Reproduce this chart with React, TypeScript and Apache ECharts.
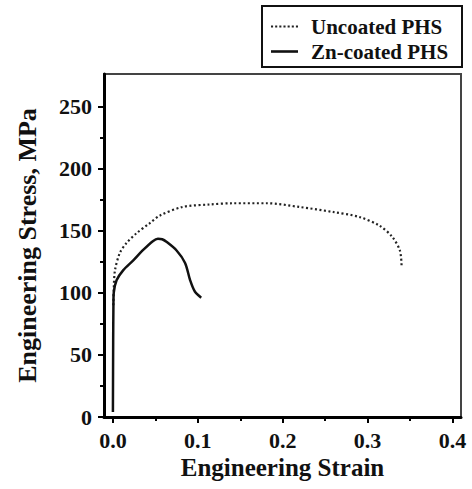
import React, { useEffect, useRef } from "react";
import * as echarts from "echarts";

const uncoatedStrain = [0.0005, 0.001, 0.0024, 0.0082, 0.016, 0.028, 0.0435, 0.055, 0.082, 0.114, 0.141, 0.181, 0.22, 0.259, 0.29, 0.314, 0.329, 0.338, 0.34];
const uncoatedStress = [90, 103, 118, 132, 140, 148, 156, 162, 169, 171, 172, 172, 169, 165, 161, 154, 145, 134, 122];

const znStrain = [0.0, 0.0003, 0.0006, 0.001, 0.0043, 0.012, 0.024, 0.035, 0.047, 0.053, 0.058, 0.063, 0.075, 0.085, 0.091, 0.0965, 0.104];
const znStress = [4, 60, 90, 100, 110, 118, 126, 134, 141.5, 143.5, 143, 141, 134, 124, 110, 101, 96];

const xTickMin = 0;
const xTickMax = 0.4;
const xTickStep = 0.1;
const yTickMin = 0;
const yTickMax = 250;
const yTickStep = 50;

const FONT = "'Liberation Serif', 'Times New Roman', serif";

const DOTS_ICON =
  "path://M0,0h2v2h-2z M4,0h2v2h-2z M8,0h2v2h-2z M12,0h2v2h-2z M16,0h2v2h-2z M20,0h2v2h-2z M24,0h2v2h-2z";
const SOLID_ICON = "path://M0,0h27v2.6h-27z";

export default function App() {
  const ref = useRef<HTMLDivElement>(null);
  useEffect(() => {
    if (!ref.current) return;
    const chart = echarts.init(ref.current, undefined, { renderer: "svg" });
    const W = 472;
    const H = 489;
    const left = 104;
    const right = 11;
    const top = 74;
    const bottom = 72;
    const xMin = -0.0105;
    const xMax = 0.41;
    const yMin = 0;
    const yMax = 276;
    const plotW = W - left - right;
    const plotH = H - top - bottom;
    // tick-grid edges derived from the data scale
    const xTickLeft = left + ((xTickMin - xMin) / (xMax - xMin)) * plotW;
    const xTickRight = W - (left + ((xTickMax - xMin) / (xMax - xMin)) * plotW);
    const yTickTop = top + ((yMax - yTickMax) / (yMax - yMin)) * plotH;

    const labelStyle = {
      fontFamily: FONT,
      fontWeight: "bold" as const,
      fontSize: 22,
      color: "#111",
      margin: 12,
    };
    const tickStyle = { color: "#000", width: 2 };

    chart.setOption({
      animation: false,
      backgroundColor: "#fff",
      textStyle: { fontFamily: FONT },
      grid: [
        {
          left,
          right,
          top,
          bottom,
          show: true,
          borderColor: "#444",
          borderWidth: 2,
          backgroundColor: "transparent",
        },
        { left: xTickLeft, right: xTickRight, top, bottom, show: false },
        { left, right, top: yTickTop, bottom, show: false },
      ],
      graphic: [
        {
          type: "rect",
          shape: { x: 262, y: 6, width: 200, height: 61 },
          style: { fill: "#fff", stroke: "#111", lineWidth: 2 },
          z: 1,
        },
      ],
      legend: {
        orient: "vertical",
        left: 271,
        top: 16,
        padding: 0,
        itemWidth: 27,
        itemHeight: 14,
        itemGap: 4,
        textStyle: {
          fontFamily: FONT,
          fontWeight: "bold",
          fontSize: 21,
          lineHeight: 21,
          color: "#111",
          padding: [0, 0, 0, 8],
        },
        data: [
          { name: "Uncoated PHS", icon: DOTS_ICON },
          { name: "Zn-coated PHS", icon: SOLID_ICON },
        ],
      },
      xAxis: [
        {
          gridIndex: 0,
          type: "value",
          min: xMin,
          max: xMax,
          name: "Engineering Strain",
          nameLocation: "middle",
          nameGap: 38,
          nameTextStyle: { fontFamily: FONT, fontWeight: "bold", fontSize: 25, color: "#111" },
          axisLine: { show: true, onZero: false, lineStyle: { color: "#000", width: 3 } },
          axisTick: { show: false },
          axisLabel: { show: false },
          splitLine: { show: false },
        },
        {
          gridIndex: 1,
          type: "value",
          min: xTickMin,
          max: xTickMax,
          interval: xTickStep,
          axisLine: { show: false },
          axisTick: { show: true, length: 6, lineStyle: tickStyle },
          minorTick: { show: true, splitNumber: 2, length: 4, lineStyle: tickStyle },
          axisLabel: { ...labelStyle, formatter: (v: number) => v.toFixed(1) },
          splitLine: { show: false },
        },
        {
          gridIndex: 2,
          type: "value",
          show: false,
          min: 0,
          max: 1,
        },
      ],
      yAxis: [
        {
          gridIndex: 0,
          type: "value",
          min: yMin,
          max: yMax,
          name: "Engineering Stress, MPa",
          nameLocation: "middle",
          nameGap: 64,
          nameTextStyle: { fontFamily: FONT, fontWeight: "bold", fontSize: 26, color: "#111" },
          axisLine: { show: true, onZero: false, lineStyle: { color: "#000", width: 3 } },
          axisTick: { show: false },
          axisLabel: { show: false },
          splitLine: { show: false },
        },
        {
          gridIndex: 1,
          type: "value",
          show: false,
          min: 0,
          max: 1,
        },
        {
          gridIndex: 2,
          type: "value",
          min: yTickMin,
          max: yTickMax,
          interval: yTickStep,
          axisLine: { show: false },
          axisTick: { show: true, length: 6, lineStyle: tickStyle },
          minorTick: { show: true, splitNumber: 2, length: 4, lineStyle: tickStyle },
          axisLabel: { ...labelStyle },
          splitLine: { show: false },
        },
      ],
      series: [
        {
          name: "Uncoated PHS",
          type: "line",
          xAxisIndex: 0,
          yAxisIndex: 0,
          data: uncoatedStrain.map((x, i) => [x, uncoatedStress[i]]),
          showSymbol: false,
          symbol: "none",
          smooth: 0.3,
          lineStyle: { color: "#222", width: 2.2, type: [2, 2.5] },
          itemStyle: { color: "#222" },
          z: 2,
        },
        {
          name: "Zn-coated PHS",
          type: "line",
          xAxisIndex: 0,
          yAxisIndex: 0,
          data: znStrain.map((x, i) => [x, znStress[i]]),
          showSymbol: false,
          symbol: "none",
          smooth: 0.3,
          lineStyle: { color: "#111", width: 2.5, type: "solid" },
          itemStyle: { color: "#111" },
          z: 3,
        },
      ],
    });
    return () => chart.dispose();
  }, []);
  return (
    <div
      ref={ref}
      style={{ position: "fixed", left: 0, top: 0, width: 472, height: 489, background: "#fff" }}
    />
  );
}
